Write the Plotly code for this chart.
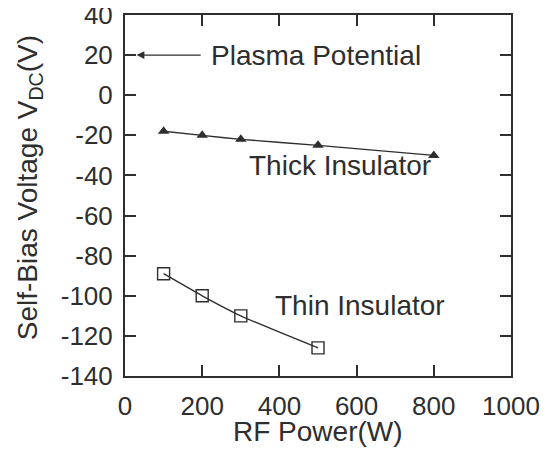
import plotly.graph_objects as go

# Data
thick_x = [100, 200, 300, 500, 800]
thick_y = [-18, -20, -22, -25, -30]
thin_x = [100, 200, 300, 500]
thin_y = [-89, -100, -110, -126]

x_ticks = [0, 200, 400, 600, 800, 1000]
y_ticks = [40, 20, 0, -20, -40, -60, -80, -100, -120, -140]

plasma_potential = 20

FONT = "Liberation Sans, Arial, Helvetica, sans-serif"
INK = "#2e2e2e"

fig = go.Figure()
fig.add_trace(go.Scatter(
    x=thick_x, y=thick_y, mode="lines+markers",
    line=dict(color=INK, width=1.4, shape="spline", smoothing=0.6),
    marker=dict(symbol="triangle-up", size=10, color=INK),
    showlegend=False,
))
fig.add_trace(go.Scatter(
    x=thin_x, y=thin_y, mode="lines+markers",
    line=dict(color=INK, width=1.4, shape="spline", smoothing=0.6),
    marker=dict(symbol="square-open", size=12, color=INK, line=dict(width=1.4)),
    showlegend=False,
))

# Plasma potential arrow + labels
fig.add_annotation(x=30, y=plasma_potential, ax=200, ay=plasma_potential,
                   xref="x", yref="y", axref="x", ayref="y",
                   text="", showarrow=True, arrowhead=2, arrowsize=1.2,
                   arrowwidth=1.3, arrowcolor=INK)
fig.add_annotation(x=218, y=plasma_potential, xref="x", yref="y",
                   text="Plasma Potential", showarrow=False,
                   xanchor="left", yanchor="middle",
                   font=dict(family=FONT, size=28, color=INK))
fig.add_annotation(x=316, y=-35, xref="x", yref="y",
                   text="Thick Insulator", showarrow=False,
                   xanchor="left", yanchor="middle",
                   font=dict(family=FONT, size=28, color=INK))
fig.add_annotation(x=383, y=-105, xref="x", yref="y",
                   text="Thin Insulator", showarrow=False,
                   xanchor="left", yanchor="middle",
                   font=dict(family=FONT, size=28, color=INK))

# Axis titles placed as annotations for exact positioning
fig.add_annotation(x=0.5, y=-0.155, xref="paper", yref="paper",
                   text="RF Power(W)", showarrow=False,
                   xanchor="center", yanchor="middle",
                   font=dict(family=FONT, size=28, color=INK))
fig.add_annotation(x=-0.2487, y=0.52, xref="paper", yref="paper",
                   text="Self-Bias Voltage V<sub>DC</sub>(V)", showarrow=False,
                   textangle=-90, xanchor="center", yanchor="middle",
                   font=dict(family=FONT, size=28, color=INK))

axis_common = dict(
    showgrid=False, zeroline=False, showline=True, linecolor=INK, linewidth=2,
    mirror="ticks", ticks="inside", ticklen=11, tickwidth=1.5, tickcolor=INK,
    tickfont=dict(family=FONT, size=26, color=INK), automargin=False,
    ticklabeloverflow="allow",
)

fig.update_xaxes(
    range=[0, 1000], tickvals=x_ticks, ticktext=[str(v) for v in x_ticks],
    ticklabelstandoff=6,
    **axis_common,
)
fig.update_yaxes(
    range=[-140, 40], tickvals=y_ticks, ticktext=[str(v) for v in y_ticks],
    ticklabelstandoff=5,
    **axis_common,
)

fig.update_layout(
    width=554, height=454,
    margin=dict(l=117, r=51, t=7, b=86),
    paper_bgcolor="white", plot_bgcolor="white",
    font=dict(family=FONT, color=INK),
)

fig.write_html("out.html")
